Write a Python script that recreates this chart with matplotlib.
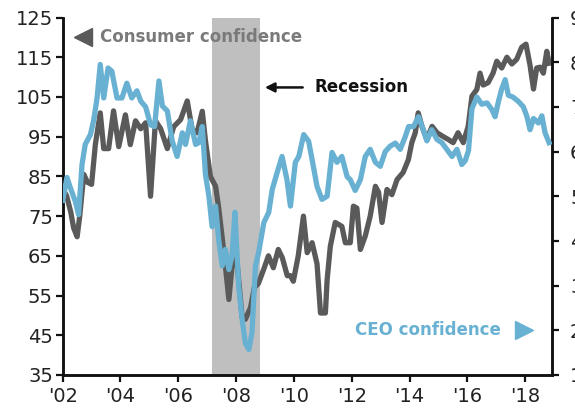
import matplotlib.pyplot as plt

# Consumer confidence (left axis)
consumer_years = [
    2002.00, 2002.14, 2002.28, 2002.38, 2002.50, 2002.59, 2002.73, 2002.86,
    2003.00, 2003.13, 2003.30, 2003.42, 2003.59, 2003.76, 2003.94, 2004.17,
    2004.34, 2004.52, 2004.70, 2004.87, 2005.04, 2005.21, 2005.39, 2005.62,
    2005.84, 2006.08, 2006.31, 2006.48, 2006.65, 2006.83, 2006.94, 2007.11,
    2007.29, 2007.39, 2007.52, 2007.63, 2007.75, 2007.86, 2007.94, 2008.05,
    2008.21, 2008.32, 2008.50, 2008.63, 2008.77, 2008.95, 2009.12, 2009.29,
    2009.46, 2009.60, 2009.77, 2009.88, 2009.98, 2010.15, 2010.33, 2010.46,
    2010.63, 2010.80, 2010.92, 2011.09, 2011.15, 2011.26, 2011.43, 2011.66,
    2011.78, 2011.95, 2012.06, 2012.18, 2012.30, 2012.47, 2012.64, 2012.82,
    2012.93, 2013.05, 2013.22, 2013.39, 2013.57, 2013.78, 2013.96, 2014.08,
    2014.20, 2014.30, 2014.43, 2014.60, 2014.78, 2014.95, 2015.17, 2015.34,
    2015.51, 2015.68, 2015.86, 2016.03, 2016.16, 2016.33, 2016.44, 2016.55,
    2016.72, 2016.89, 2017.02, 2017.19, 2017.37, 2017.54, 2017.71, 2017.88,
    2018.03, 2018.17, 2018.29, 2018.40, 2018.52, 2018.63, 2018.75, 2018.83,
]
consumer_index = [
    82.0, 80.0, 76.0, 72.0, 69.8, 75.0, 85.5, 83.5,
    83.0, 93.0, 101.0, 92.0, 92.0, 101.5, 92.5, 100.5,
    93.0, 99.0, 97.0, 98.5, 80.0, 99.0, 97.0, 92.0,
    97.5, 99.3, 104.0, 96.8, 96.0, 101.4, 94.0, 85.0,
    82.5, 77.5, 69.5, 62.4, 54.0, 62.4, 64.0, 62.0,
    49.5, 49.0, 52.0, 57.0, 58.0, 61.5, 65.0, 62.0,
    66.6, 64.5, 60.0, 60.0, 58.6, 65.0, 75.0, 65.8,
    68.3, 63.0, 50.6, 50.6, 59.0, 67.4, 73.4, 72.4,
    68.3, 68.3, 77.5, 77.0, 66.6, 70.0, 75.0, 82.5,
    81.0, 73.4, 81.7, 80.4, 84.2, 86.0, 89.2, 93.5,
    96.0, 101.0, 97.6, 94.3, 97.6, 96.0, 95.0, 94.3,
    93.5, 96.0, 93.5, 97.6, 105.2, 106.9, 111.0, 108.0,
    108.6, 111.0, 114.0, 112.3, 115.0, 113.3, 114.5, 117.5,
    118.3, 113.0, 107.0, 112.3, 112.5, 111.0, 116.5, 113.5,
]

# CEO confidence (right axis)
ceo_years = [
    2002.00, 2002.15, 2002.27, 2002.44, 2002.55, 2002.67, 2002.78, 2002.96,
    2003.07, 2003.19, 2003.30, 2003.42, 2003.57, 2003.70, 2003.88, 2004.05,
    2004.22, 2004.39, 2004.57, 2004.70, 2004.87, 2005.04, 2005.18, 2005.33,
    2005.45, 2005.62, 2005.79, 2005.96, 2006.14, 2006.25, 2006.42, 2006.60,
    2006.71, 2006.83, 2006.94, 2007.06, 2007.17, 2007.29, 2007.40, 2007.52,
    2007.63, 2007.75, 2007.86, 2007.96, 2008.09, 2008.21, 2008.32, 2008.44,
    2008.55, 2008.67, 2008.78, 2008.96, 2009.13, 2009.25, 2009.42, 2009.59,
    2009.76, 2009.88, 2010.05, 2010.17, 2010.34, 2010.51, 2010.63, 2010.80,
    2010.97, 2011.15, 2011.32, 2011.49, 2011.66, 2011.84, 2011.95, 2012.12,
    2012.30, 2012.47, 2012.64, 2012.82, 2012.99, 2013.16, 2013.33, 2013.51,
    2013.68, 2013.85, 2013.97, 2014.14, 2014.31, 2014.48, 2014.60, 2014.77,
    2014.95, 2015.12, 2015.29, 2015.47, 2015.64, 2015.81, 2015.93, 2016.04,
    2016.16, 2016.33, 2016.50, 2016.68, 2016.85, 2016.96, 2017.08, 2017.19,
    2017.31, 2017.42, 2017.58, 2017.77, 2017.94, 2018.06, 2018.17, 2018.29,
    2018.46, 2018.58, 2018.69, 2018.83,
]
ceo_index = [
    49.1, 54.2, 51.8, 48.8, 45.9, 57.1, 61.6, 63.8,
    66.9, 72.0, 79.5, 72.0, 78.7, 78.0, 72.0, 72.0,
    75.3, 72.0, 73.6, 71.3, 70.0, 66.0, 65.6, 75.8,
    70.2, 69.1, 62.4, 58.9, 64.2, 61.6, 66.9, 61.6,
    62.0, 65.6, 54.9, 50.0, 43.2, 47.8, 40.2, 34.4,
    38.1, 33.6, 36.7, 46.4, 29.8, 22.4, 17.1, 15.7,
    19.5, 34.4, 37.4, 44.1, 46.4, 51.5, 55.3, 58.9,
    53.7, 47.8, 57.6, 58.9, 63.8, 62.3, 58.2, 52.2,
    49.3, 50.0, 59.8, 57.6, 58.9, 54.4, 53.7, 51.3,
    53.7, 58.9, 60.5, 57.6, 56.7, 60.0, 61.2, 61.9,
    60.5, 63.3, 65.6, 65.6, 67.8, 64.9, 62.4, 64.9,
    62.7, 62.0, 60.5, 58.9, 60.5, 57.1, 58.0, 60.2,
    69.6, 72.2, 70.6, 70.9, 69.4, 67.8, 71.3, 74.0,
    76.1, 72.6, 72.2, 71.2, 70.0, 67.9, 64.9, 67.4,
    66.4, 68.0, 64.2, 62.0,
]

recession = (2007.18, 2008.81)
year_ticks = list(range(2002, 2019, 2))
year_labels = ["'%02d" % (y % 100) for y in year_ticks]

gray = '#5a5a5a'
blue = '#68b1d2'

plt.rcParams['font.family'] = 'DejaVu Sans'

fig = plt.figure(figsize=(5.75, 4.08), dpi=100)
ax = fig.add_axes([0.109, 0.081, 0.851, 0.876])
ax2 = ax.twinx()

ax.axvspan(*recession, color='#bfbfbf', lw=0, zorder=0)
ax.plot(consumer_years, consumer_index, color=gray, lw=3.8,
        solid_joinstyle='round', zorder=2)
ax2.plot(ceo_years, ceo_index, color=blue, lw=3.8,
         solid_joinstyle='round', zorder=3)

ax.set_xlim(2002, 2018.93)
ax.set_ylim(35, 125)
ax2.set_ylim(10, 90)
ax.set_yticks(range(35, 126, 10))
ax2.set_yticks(range(10, 91, 10))
ax.set_xticks(year_ticks)
ax.set_xticklabels(year_labels)

for a in (ax, ax2):
    a.spines['top'].set_visible(False)
    for s in ('left', 'right', 'bottom'):
        a.spines[s].set_linewidth(1.8)
        a.spines[s].set_color('#111111')
ax.tick_params(axis='y', labelsize=14, length=5, width=1.6,
               colors='#111111', labelcolor='#222222', pad=2)
ax.tick_params(axis='x', labelsize=14, length=5, width=1.6,
               colors='#111111', labelcolor='#222222', pad=4)
ax2.tick_params(axis='y', labelsize=14, length=5, width=1.6,
                colors='#111111', labelcolor='#222222', pad=8)

# Series labels and recession pointer
ax2.plot([2002.72], [120], transform=ax.transData, marker='<',
         markersize=13, color=gray, clip_on=False)
ax2.text(2003.3, 120, 'Consumer confidence', transform=ax.transData,
         fontsize=12, fontweight='bold', color='#7a7a7a', va='center')
ax2.text(2010.7, 107.4, 'Recession', transform=ax.transData,
         fontsize=12, fontweight='bold', color='#111111', va='center')
ax2.annotate('', xy=(2008.9, 107.4), xytext=(2010.4, 107.4),
             xycoords=ax.transData, textcoords=ax.transData,
             arrowprops=dict(arrowstyle='-|>', color='#111111', lw=1.8,
                             mutation_scale=14))
ax2.text(2012.1, 46.2, 'CEO confidence', transform=ax.transData,
         fontsize=12, fontweight='bold', color=blue, va='center')
ax2.plot([2017.95], [46.2], transform=ax.transData, marker='>',
         markersize=13, color=blue, clip_on=False)

fig.savefig('out.png', dpi=100)
